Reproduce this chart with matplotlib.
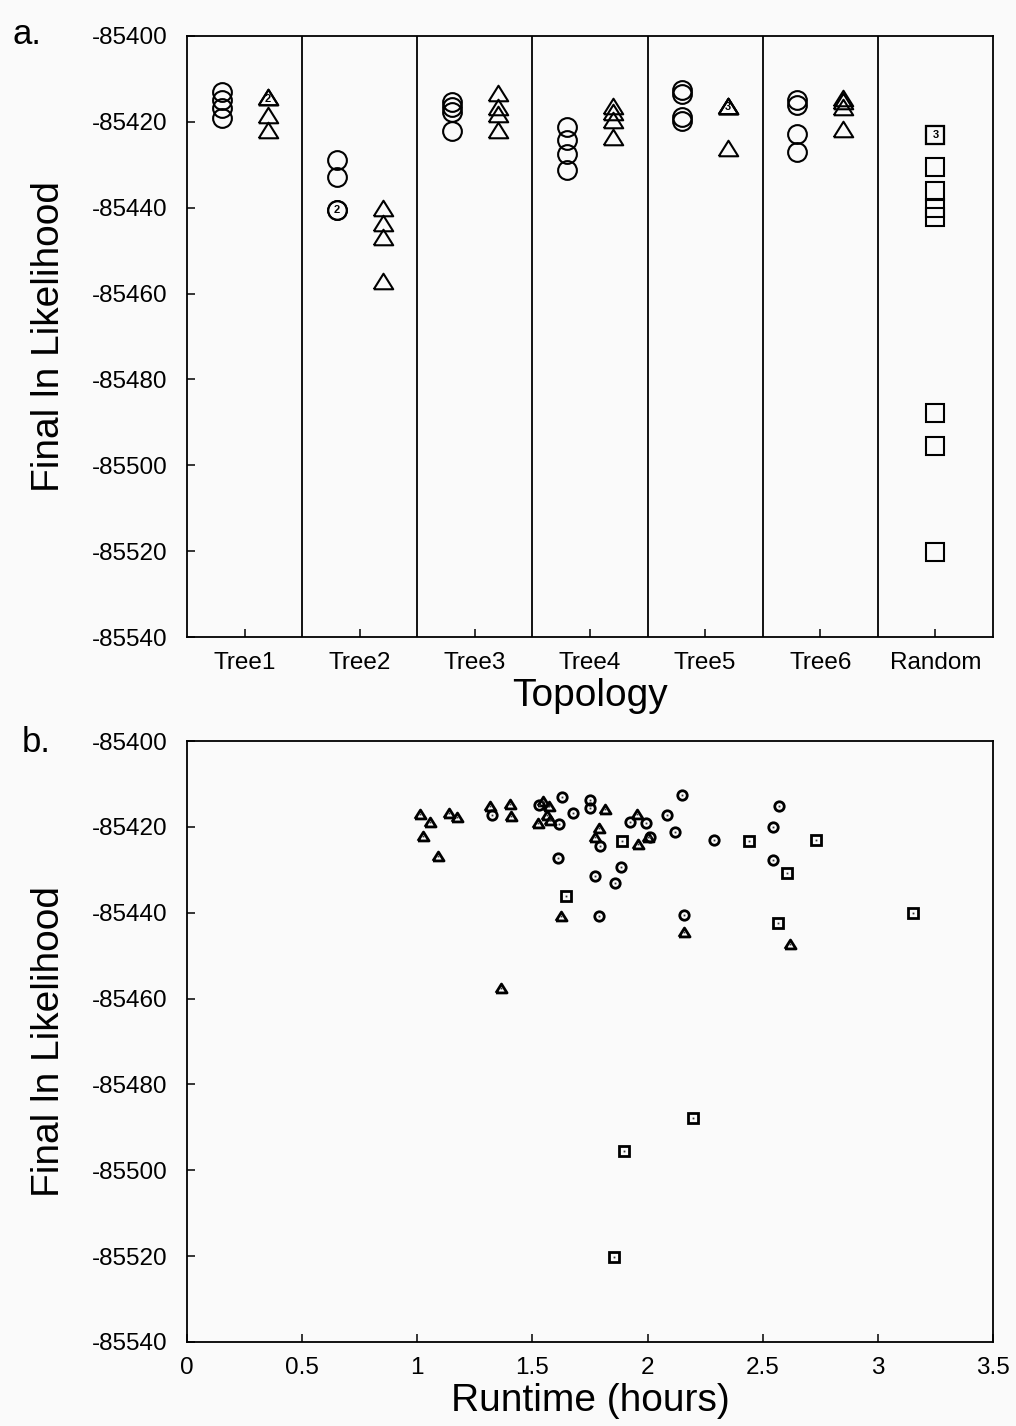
import matplotlib
matplotlib.use("Agg")
import matplotlib.pyplot as plt
from collections import Counter

plt.rcParams['font.family'] = ['Liberation Sans', 'DejaVu Sans']

# ---------------- Panel a data ----------------
topologies = ["Tree1", "Tree2", "Tree3", "Tree4", "Tree5", "Tree6", "Random"]
circle_lnl = [
    [-85413.0, -85414.9, -85416.8, -85419.0],
    [-85429.0, -85432.9, -85440.6, -85440.6],
    [-85415.3, -85416.5, -85417.6, -85422.1],
    [-85421.1, -85424.2, -85427.6, -85431.1],
    [-85412.6, -85413.4, -85418.8, -85419.7],
    [-85414.9, -85416.0, -85422.8, -85427.1],
]
triangle_lnl = [
    [-85414.3, -85414.3, -85418.4, -85421.8],
    [-85440.1, -85443.5, -85446.9, -85457.1],
    [-85413.3, -85416.6, -85418.2, -85421.9],
    [-85416.4, -85417.6, -85419.5, -85423.5],
    [-85416.3, -85416.3, -85416.3, -85426.2],
    [-85414.5, -85415.1, -85416.5, -85421.7],
]
random_lnl = [-85423.1, -85423.1, -85423.1, -85430.5, -85436.0, -85440.0,
              -85442.2, -85487.8, -85495.5, -85520.2]

# ---------------- Panel b data ----------------
circ_runtime = [1.630, 1.326, 1.530, 1.676, 1.615, 1.750, 1.750, 1.925, 1.993, 2.083,
                2.151, 2.120, 2.010, 1.793, 1.612, 1.885, 1.772, 1.858, 1.788, 2.158,
                2.287, 2.569, 2.543, 2.543]
circ_lnl_b = [-85413.1, -85417.2, -85414.8, -85416.8, -85419.3, -85413.7, -85415.6, -85418.9,
              -85419.0, -85417.2, -85412.5, -85421.2, -85422.3, -85424.4, -85427.3, -85429.3,
              -85431.4, -85433.0, -85440.7, -85440.5, -85423.0, -85415.1, -85420.0, -85427.8]
tri_runtime = [1.012, 1.055, 1.026, 1.089, 1.139, 1.174, 1.316, 1.403, 1.407, 1.547,
               1.572, 1.563, 1.575, 1.524, 1.814, 1.788, 1.773, 1.955, 1.958, 2.003,
               1.624, 2.159, 2.617, 1.363]
tri_lnl_b = [-85417.1, -85418.9, -85422.1, -85426.9, -85416.8, -85417.6, -85415.1, -85414.7,
             -85417.4, -85413.9, -85415.1, -85417.2, -85418.5, -85419.0, -85415.8, -85420.2,
             -85422.4, -85417.1, -85424.0, -85422.3, -85440.8, -85444.4, -85447.3, -85457.5]
sq_runtime = [1.888, 1.644, 2.442, 2.731, 2.604, 2.565, 3.154, 2.197, 1.898, 1.854]
sq_lnl_b = [-85423.3, -85436.2, -85423.2, -85423.1, -85430.7, -85442.3, -85440.1,
            -85487.8, -85495.5, -85520.2]

y_ticks = [-85400, -85420, -85440, -85460, -85480, -85500, -85520, -85540]
x_ticks_b = [0, 0.5, 1, 1.5, 2, 2.5, 3, 3.5]
x_ticklabels_b = ["0", "0.5", "1", "1.5", "2", "2.5", "3", "3.5"]

# ---------------- Figure ----------------
W, H = 1016, 1426
fig = plt.figure(figsize=(W / 100, H / 100), dpi=100, facecolor='#fafafa')

TRI = [(-1, -0.8), (1, -0.8), (0, 0.8), (-1, -0.8)]


def style_axes(ax):
    ax.set_facecolor('#fafafa')
    for s in ax.spines.values():
        s.set_linewidth(1.3)
        s.set_color('black')
    ax.tick_params(direction='in', length=6, width=1.1, labelsize=17.5, colors='black')
    ax.tick_params(axis='y', pad=14)
    ax.tick_params(axis='x', pad=11)
    ax.set_ylim(-85540, -85400)
    ax.set_yticks(y_ticks)
    ax.set_yticklabels([str(v) for v in y_ticks])


def draw_group(ax, x, values, marker, ms, lw=1.5):
    cnt = Counter(values)
    ax.plot([x] * len(values), values, linestyle='none', marker=marker, ms=ms,
            mfc='none', mec='black', mew=lw)
    for v, c in cnt.items():
        if c > 1:
            dy = -0.3 if marker is TRI else 0
            ax.text(x, v + dy, str(c), ha='center', va='center', fontsize=8,
                    fontweight='bold', color='black')


# Panel a
axa = fig.add_axes([187 / W, 1 - 637 / H, 806 / W, 601 / H])
style_axes(axa)
axa.set_xlim(-0.5, len(topologies) - 0.5)
for i in range(len(topologies) - 1):
    axa.axvline(i + 0.5, color='black', lw=1.3)
axa.set_xticks(range(len(topologies)))
axa.set_xticklabels(topologies)
for i in range(len(circle_lnl)):
    draw_group(axa, i - 0.2, circle_lnl[i], 'o', 13.5)
    draw_group(axa, i + 0.2, triangle_lnl[i], TRI, 14)
draw_group(axa, len(topologies) - 1, random_lnl, 's', 12.5)
axa.set_xlabel("Topology", fontsize=28, labelpad=3)
axa.set_ylabel("Final ln Likelihood", fontsize=28, labelpad=18)

# Panel b
axb = fig.add_axes([187 / W, 1 - 1342 / H, 806 / W, 601 / H])
style_axes(axb)
axb.set_xlim(0, 3.5)
axb.set_xticks(x_ticks_b)
axb.set_xticklabels(x_ticklabels_b)
kw = dict(linestyle='none', mfc='none', mec='black', mew=2.0)
axb.plot(circ_runtime, circ_lnl_b, marker='o', ms=6.8, **kw)
axb.plot(tri_runtime, tri_lnl_b, marker=TRI, ms=8, **kw)
axb.plot(sq_runtime, sq_lnl_b, marker='s', ms=6.8, **kw)
for xs, ys in [(circ_runtime, circ_lnl_b), (tri_runtime, tri_lnl_b), (sq_runtime, sq_lnl_b)]:
    axb.plot(xs, ys, linestyle='none', marker='s', ms=1.3, mfc='#333333', mec='none')
axb.set_xlabel("Runtime (hours)", fontsize=28, labelpad=3)
axb.set_ylabel("Final ln Likelihood", fontsize=28, labelpad=18)

fig.text(12 / W, 1 - 44 / H, "a.", fontsize=25, ha='left', va='baseline')
fig.text(22 / W, 1 - 752 / H, "b.", fontsize=25, ha='left', va='baseline')

fig.savefig("out.png", dpi=100, facecolor=fig.get_facecolor())
